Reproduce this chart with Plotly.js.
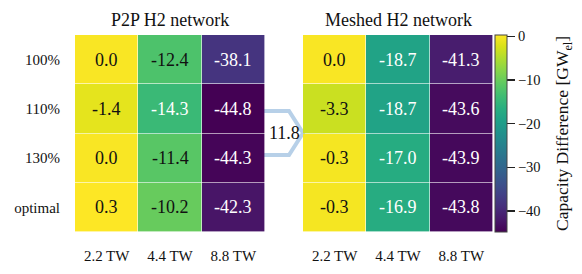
<!DOCTYPE html>
<html>
<head>
<meta charset="utf-8">
<script src="https://cdn.plot.ly/plotly-3.0.1.min.js"></script>
<style>html,body{margin:0;padding:0;background:#fff;} #chart{width:582px;height:274px;}</style>
</head>
<body>
<div id="chart"></div>
<script>
const columns = ["2.2 TW", "4.4 TW", "8.8 TW"];
const rows = ["100%", "110%", "130%", "optimal"];
const p2pValues = [
  [0.0, -12.4, -38.1],
  [-1.4, -14.3, -44.8],
  [0.0, -11.4, -44.3],
  [0.3, -10.2, -42.3]
];
const meshedValues = [
  [0.0, -18.7, -41.3],
  [-3.3, -18.7, -43.6],
  [-0.3, -17.0, -43.9],
  [-0.3, -16.9, -43.8]
];
const panelTitles = ["P2P H2 network", "Meshed H2 network"];
const colorbarTitle = "Capacity Difference [GW<sub>el</sub>]";
const arrowLabel = "11.8";
const colorbarTicks = [0, -10, -20, -30, -40];
const zMin = -44.8, zMax = 0.3;

const FONT = "Liberation Serif";

function hm(z, xa, ya, showScale) {
  const t = {
    type: "heatmap", z: z, x: columns, y: rows,
    xaxis: xa, yaxis: ya,
    colorscale: "Viridis", zmin: zMin, zmax: zMax,
    xgap: 0.6, ygap: 0.6,
    showscale: showScale,
    hoverinfo: "skip"
  };
  if (showScale) {
    t.colorbar = {
      x: 495/582, xanchor: "left", xref: "paper",
      y: 42/274, yanchor: "bottom", yref: "paper",
      len: 197/274, lenmode: "fraction",
      xpad: 0, ypad: 0,
      thickness: 12, outlinewidth: 1, outlinecolor: "#444",
      ticks: "outside", ticklen: 8, tickcolor: "#222", tickwidth: 1.5,
      tickvals: colorbarTicks,
      tickfont: {family: FONT, size: 14.5, color: "#111"}
    };
  }
  return t;
}

const annotations = [];
function addCellText(z, xa, ya) {
  z.forEach((row, i) => row.forEach((v, j) => {
    annotations.push({
      xref: xa, yref: ya, x: columns[j], y: rows[i],
      text: v.toFixed(1), showarrow: false,
      font: {family: FONT, size: 18, color: v > -13.5 ? "#111" : "#fff"}
    });
  }));
}
addCellText(p2pValues, "x", "y");
addCellText(meshedValues, "x2", "y2");

annotations.push({xref: "x domain", yref: "paper", x: 0.5, y: 1 - 20/274, text: panelTitles[0],
  showarrow: false, font: {family: FONT, size: 18, color: "#111"}, yanchor: "middle"});
annotations.push({xref: "x2 domain", yref: "paper", x: 0.5, y: 1 - 20/274, text: panelTitles[1],
  showarrow: false, font: {family: FONT, size: 18, color: "#111"}, yanchor: "middle"});
annotations.push({xref: "paper", yref: "paper", x: 284/582, y: 1 - 133/274, text: arrowLabel,
  showarrow: false, font: {family: FONT, size: 18, color: "#111"}});
annotations.push({xref: "paper", yref: "paper", x: 563/582, y: 1 - 134/274, text: colorbarTitle,
  textangle: -90, showarrow: false, xanchor: "center", yanchor: "middle",
  font: {family: FONT, size: 17.5, color: "#111"}});

const px = v => v/582, py = v => 1 - v/274;
const arrowPath = `M ${px(258)} ${py(111)} L ${px(289)} ${py(111)} L ${px(303)} ${py(133)} L ${px(289)} ${py(155)} L ${px(258)} ${py(155)}`;

const axX = {type: "category", showgrid: false, zeroline: false, showline: false, ticks: "",
  tickfont: {family: FONT, size: 15, color: "#111"}, ticklabelstandoff: 13};
const axY = {type: "category", showgrid: false, zeroline: false, showline: false, ticks: "",
  autorange: "reversed", tickfont: {family: FONT, size: 15, color: "#111"}, ticklabelstandoff: 14};

const layout = {
  width: 582, height: 274,
  margin: {l: 0, r: 0, t: 0, b: 0},
  paper_bgcolor: "#fff", plot_bgcolor: "#fff",
  font: {family: FONT, color: "#111"},
  showlegend: false,
  xaxis: Object.assign({}, axX, {domain: [75/582, 265/582], anchor: "y"}),
  yaxis: Object.assign({}, axY, {domain: [42/274, 239/274], anchor: "x"}),
  xaxis2: Object.assign({}, axX, {domain: [303/582, 493/582], anchor: "y2"}),
  yaxis2: Object.assign({}, axY, {domain: [42/274, 239/274], anchor: "x2", showticklabels: false}),
  annotations: annotations,
  shapes: [{type: "path", xref: "paper", yref: "paper", path: arrowPath,
    line: {color: "rgba(170,200,228,0.85)", width: 4}, fillcolor: "rgba(0,0,0,0)", layer: "below"}]
};

Plotly.newPlot("chart", [hm(p2pValues, "x", "y", false), hm(meshedValues, "x2", "y2", true)], layout,
  {staticPlot: true, displayModeBar: false});
</script>
</body>
</html>
